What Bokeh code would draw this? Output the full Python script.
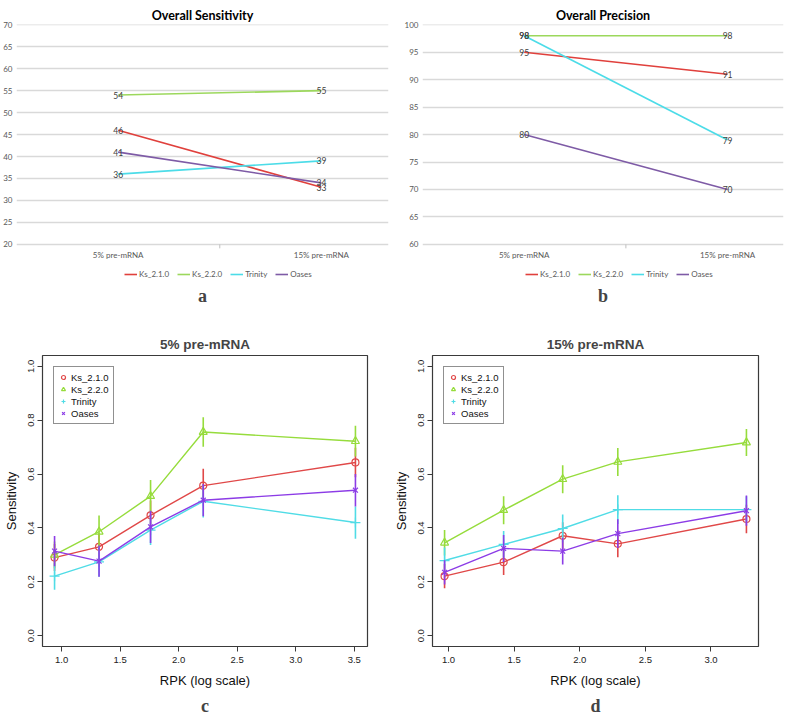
from bokeh.plotting import figure
from bokeh.layouts import column, row
from bokeh.models import Range1d, FixedTicker, Legend, LegendItem, Title
from bokeh.embed import file_html
from bokeh.resources import INLINE
from bokeh.core.properties import value

# ---------------- data ----------------
tools = ["Ks_2.1.0", "Ks_2.2.0", "Trinity", "Oases"]
conditions = ["5% pre-mRNA", "15% pre-mRNA"]

# Overall sensitivity (%) : [5% pre-mRNA, 15% pre-mRNA]
sens_ks210 = [46, 33]
sens_ks220 = [54, 55]
sens_trinity = [36, 39]
sens_oases = [41, 34]

# Overall precision (%)
prec_ks210 = [95, 91]
prec_ks220 = [98, 98]
prec_trinity = [98, 79]
prec_oases = [80, 70]

# Sensitivity by expression, 5% pre-mRNA
rpk_5 = [0.94, 1.32, 1.76, 2.21, 3.51]
c_ks210 = [0.290, 0.330, 0.447, 0.557, 0.643]
c_ks220 = [0.300, 0.386, 0.518, 0.756, 0.722]
c_trinity = [0.221, 0.274, 0.392, 0.499, 0.420]
c_oases = [0.314, 0.277, 0.404, 0.503, 0.540]
c_err_ks210 = [0.050, 0.050, 0.055, 0.063, 0.055]
c_err_ks220 = [0.050, 0.060, 0.060, 0.055, 0.057]
c_err_trinity = [0.050, 0.055, 0.055, 0.060, 0.060]
c_err_oases = [0.056, 0.058, 0.060, 0.060, 0.060]

# Sensitivity by expression, 15% pre-mRNA
rpk_15 = [0.97, 1.42, 1.87, 2.29, 3.27]
d_ks210 = [0.221, 0.273, 0.371, 0.341, 0.433]
d_ks220 = [0.345, 0.466, 0.581, 0.645, 0.717]
d_trinity = [0.279, 0.339, 0.398, 0.468, 0.468]
d_oases = [0.235, 0.324, 0.314, 0.379, 0.464]
d_err_ks210 = [0.045, 0.048, 0.050, 0.050, 0.053]
d_err_ks220 = [0.047, 0.052, 0.052, 0.052, 0.050]
d_err_trinity = [0.048, 0.050, 0.052, 0.053, 0.050]
d_err_oases = [0.045, 0.050, 0.050, 0.053, 0.056]

# ---------------- styles ----------------
excel_colors = ["#E0403C", "#9CD85C", "#4CDCE8", "#7E5BA6"]
r_colors = ["#E04848", "#96DC3C", "#50DCE6", "#8C3CE6"]
r_markers = ["circle", "triangle", "cross", "x"]
r_sizes = [7, 8, 10, 7]

EXCEL_FONT = "Lato"
R_FONT = "Liberation Sans"
SERIF = "Liberation Serif"

cond_x = [i + 0.5 for i in range(len(conditions))]
cond_div = [i + 1.0 for i in range(len(conditions) - 1)]


def excel_panel(title, series, ylo, yhi, xend, width, height, left, right,
                letter, leg_x, title_off):
    span = yhi - ylo
    ext = span * 0.178          # room under the axis for category labels + legend
    p = figure(width=width, height=height, x_range=Range1d(0, xend),
               y_range=Range1d(ylo - ext, yhi + 0.05),
               output_backend="svg", toolbar_location=None,
               min_border_left=left, min_border_right=right,
               min_border_top=24, min_border_bottom=37)
    p.outline_line_color = None
    p.title.text = title
    p.title.align = "center"
    p.title.offset = title_off
    p.title.text_font = EXCEL_FONT
    p.title.text_font_size = "12.5px"
    p.title.text_font_style = "bold"
    p.title.text_color = "#000000"
    p.title.standoff = 3
    yt = list(range(ylo, yhi + 1, 5))
    p.xgrid.visible = False
    p.ygrid.ticker = FixedTicker(ticks=yt)
    p.ygrid.grid_line_color = "#D9D9D9"
    p.ygrid.grid_line_width = 1.3
    p.yaxis.ticker = FixedTicker(ticks=yt)
    p.yaxis.axis_line_color = None
    p.yaxis.major_tick_line_color = None
    p.yaxis.minor_tick_line_color = None
    p.yaxis.major_tick_out = 0
    p.yaxis.major_tick_in = 0
    p.yaxis.minor_tick_out = 0
    p.yaxis.minor_tick_in = 0
    p.yaxis.major_label_text_font = EXCEL_FONT
    p.yaxis.major_label_text_font_size = "8px"
    p.yaxis.major_label_text_color = "#595959"
    p.yaxis.major_label_standoff = 4
    p.xaxis.visible = False
    # category axis: labels and the divider tick under the baseline
    p.text(cond_x, [ylo - span * 0.046] * len(cond_x), text=conditions,
           text_align="center", text_baseline="middle",
           text_font=value(EXCEL_FONT), text_font_size="8px",
           text_color="#595959")
    p.segment(cond_div, [ylo] * len(cond_div), cond_div,
              [ylo - span * 0.018] * len(cond_div), line_color="#C0C0C0",
              line_width=1)
    items = []
    for name, vals, col in zip(tools, series, excel_colors):
        r = p.line(cond_x, vals, line_color=col, line_width=1.6)
        items.append(LegendItem(label=name, renderers=[r]))
    for vals in series:
        p.text(cond_x, vals, text=[str(v) for v in vals], text_align="center",
               text_baseline="middle", text_font=value(EXCEL_FONT),
               text_font_size="8.5px", text_color="#404040")
    leg = Legend(items=items, orientation="horizontal", location=(leg_x, 4),
                 border_line_color=None, background_fill_alpha=0,
                 label_text_font=EXCEL_FONT, label_text_font_size="8px",
                 label_text_color="#595959", glyph_width=13, glyph_height=10,
                 label_height=10, label_standoff=2, spacing=8, padding=2,
                 margin=0)
    p.add_layout(leg)
    p.add_layout(Title(text=letter, align="center", text_font=SERIF,
                       text_font_size="18px", text_font_style="bold",
                       standoff=0), "below")
    return p


def r_panel(title, xs, series, errs, xlo, xhi, xticks, width, height, left,
            right, letter):
    p = figure(width=width, height=height, x_range=Range1d(xlo, xhi),
               y_range=Range1d(-0.04, 1.04),
               output_backend="svg", toolbar_location=None,
               min_border_left=left, min_border_right=right,
               min_border_top=35, min_border_bottom=0)
    p.grid.visible = False
    p.outline_line_color = "#3A3A3A"
    p.outline_line_width = 1.2
    p.title.text = title
    p.title.align = "center"
    p.title.text_font = R_FONT
    p.title.text_font_size = "13.5px"
    p.title.text_font_style = "bold"
    p.title.standoff = 8
    for ax in (p.xaxis, p.yaxis):
        ax.axis_line_color = None
        ax.major_tick_line_color = "#3A3A3A"
        ax.major_tick_out = 5
        ax.major_tick_in = 0
        ax.minor_tick_line_color = None
        ax.minor_tick_out = 0
        ax.minor_tick_in = 0
        ax.major_label_text_font = R_FONT
        ax.major_label_text_font_size = "9.5px"
        ax.major_label_text_color = "#222222"
        ax.axis_label_text_font = R_FONT
        ax.axis_label_text_font_size = "13px"
        ax.axis_label_text_font_style = "normal"
        ax.axis_label_text_color = "#111111"
    p.xaxis.ticker = FixedTicker(ticks=xticks)
    p.xaxis.major_label_overrides = {t: "%.1f" % t for t in xticks}
    p.xaxis.major_label_standoff = 5
    p.xaxis.axis_label = "RPK (log scale)"
    p.xaxis.axis_label_standoff = 7
    yt = [0.0, 0.2, 0.4, 0.6, 0.8, 1.0]
    p.yaxis.ticker = FixedTicker(ticks=yt)
    p.yaxis.major_label_overrides = {t: "%.1f" % t for t in yt}
    p.yaxis.major_label_orientation = "vertical"
    p.yaxis.major_label_standoff = 3
    p.yaxis.axis_label = "Sensitivity"
    p.yaxis.axis_label_standoff = 7
    items = []
    for name, vals, err, col, mk, sz in zip(tools, series, errs, r_colors, r_markers, r_sizes):
        lo = [v - e for v, e in zip(vals, err)]
        hi = [v + e for v, e in zip(vals, err)]
        p.segment(xs, lo, xs, hi, line_color=col, line_width=1.6)
        p.line(xs, vals, line_color=col, line_width=1.4)
        r = p.scatter(xs, vals, marker=mk, size=sz, line_color=col,
                      fill_color=None, line_width=1.2)
        items.append(LegendItem(label=name, renderers=[r]))
    leg = Legend(items=items, location="top_left", border_line_color="#222222",
                 border_line_width=1, background_fill_color="white",
                 background_fill_alpha=1, label_text_font=R_FONT,
                 label_text_font_size="9.5px", label_text_color="#111111",
                 glyph_width=10, glyph_height=12, label_height=12,
                 label_standoff=3, spacing=0, padding=4, margin=11)
    p.add_layout(leg)
    p.add_layout(Title(text=letter, align="center", text_font=SERIF,
                       text_font_size="18px", text_font_style="bold",
                       standoff=6), "below")
    return p


pa = excel_panel("Overall Sensitivity",
                 [sens_ks210, sens_ks220, sens_trinity, sens_oases],
                 20, 70, 1.83, 390, 320, 12, 2, "a", 108, 12)
pb = excel_panel("Overall Precision",
                 [prec_ks210, prec_ks220, prec_trinity, prec_oases],
                 60, 100, 1.775, 395, 320, 32, 2, "b", 103, 15)
pc = r_panel("5% pre-mRNA", rpk_5, [c_ks210, c_ks220, c_trinity, c_oases],
             [c_err_ks210, c_err_ks220, c_err_trinity, c_err_oases],
             0.837, 3.613, [1.0, 1.5, 2.0, 2.5, 3.0, 3.5], 390, 398, 41, 23, "c")
pd_ = r_panel("15% pre-mRNA", rpk_15, [d_ks210, d_ks220, d_trinity, d_oases],
              [d_err_ks210, d_err_ks220, d_err_trinity, d_err_oases],
              0.878, 3.362, [1.0, 1.5, 2.0, 2.5, 3.0], 395, 398, 42, 27, "d")

layout = column(row(pa, pb), row(pc, pd_))
open("out.html", "w").write(file_html(layout, INLINE))
